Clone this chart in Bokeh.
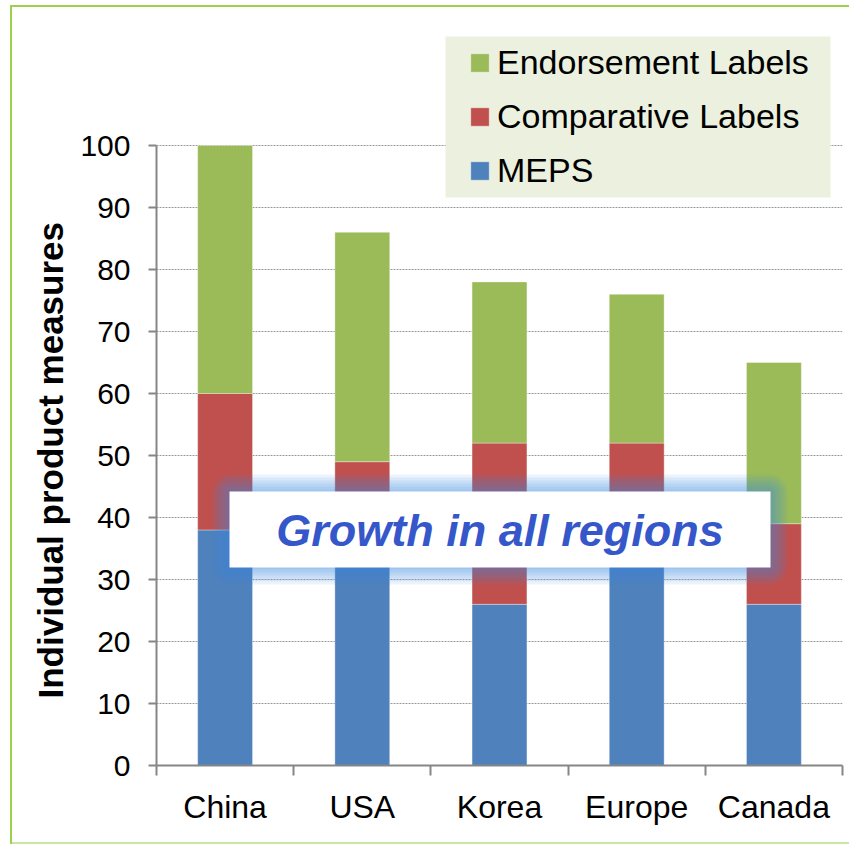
from bokeh.plotting import figure
from bokeh.models import (ColumnDataSource, LinearAxis, FixedTicker, Range1d, Legend,
                          LegendItem, BoxAnnotation, Label, Title)
from bokeh.embed import file_html
from bokeh.resources import INLINE

# ---- data ----
categories = ["China", "USA", "Korea", "Europe", "Canada"]
meps = [38, 41, 26, 42, 26]
comparative = [22, 8, 26, 10, 13]
endorsement = [40, 37, 26, 24, 26]
y_ticks = [0, 10, 20, 30, 40, 50, 60, 70, 80, 90, 100]
series = ["meps", "comparative", "endorsement"]
series_labels = ["MEPS", "Comparative Labels", "Endorsement Labels"]
colors = ["#4F81BD", "#C0504D", "#9BBB59"]

FONT = "Liberation Sans"
W, H = 849, 845
FL, FR, FT, FB = 156, 842, 20, 765  # frame edges (canvas px)
YMAX = 100 * (FB - FT) / (FB - 145)

xs = [i + 0.5 for i in range(len(categories))]
src = ColumnDataSource(dict(x=xs, meps=meps, comparative=comparative, endorsement=endorsement))

p = figure(width=W, height=H, output_backend="svg", toolbar_location=None,
           x_range=Range1d(0, len(categories)), y_range=Range1d(0, YMAX),
           x_axis_location=None, y_axis_location=None,
           min_border_left=FL, min_border_right=W - FR, min_border_top=FT,
           min_border_bottom=H - FB, outline_line_color=None,
           background_fill_color="white", border_fill_color=None)
g = "#9BD14B"
g2 = "#C8E8A0"
p.styles = {
    "background": (f"linear-gradient({g},{g}) 10px 5px / 2px 839px no-repeat, "
                   f"linear-gradient({g},{g}) 10px 5px / 840px 2px no-repeat, "
                   f"linear-gradient({g2},{g2}) 10px 842px / 840px 2px no-repeat, white")
}

rs = p.vbar_stack(series, x="x", width=0.4, color=colors, line_color="white",
                  line_alpha=0.35, line_width=1, source=src)

# ---- axes ----
xaxis = LinearAxis(ticker=FixedTicker(ticks=xs, minor_ticks=list(range(len(categories) + 1))),
                   bounds=(0, len(categories)))
xaxis.major_label_overrides = {x: c for x, c in zip(xs, categories)}
xaxis.major_tick_line_color = None
xaxis.major_tick_out = 0
xaxis.major_tick_in = 0
xaxis.minor_tick_out = 10
xaxis.minor_tick_in = 0
xaxis.minor_tick_line_color = "#868686"
xaxis.minor_tick_line_width = 2
xaxis.axis_line_color = "#868686"
xaxis.axis_line_width = 2
xaxis.major_label_standoff = 13
xaxis.major_label_text_font = FONT
xaxis.major_label_text_font_size = "32px"
xaxis.major_label_text_color = "black"
p.add_layout(xaxis, "below")

yaxis = LinearAxis(ticker=FixedTicker(ticks=y_ticks, minor_ticks=[]), bounds=(0, 100))
yaxis.major_tick_out = 8
yaxis.major_tick_in = 0
yaxis.major_tick_line_color = "#868686"
yaxis.major_tick_line_width = 2
yaxis.axis_line_color = "#868686"
yaxis.axis_line_width = 2
yaxis.major_label_standoff = 18
yaxis.major_label_text_font = FONT
yaxis.major_label_text_font_size = "30px"
yaxis.major_label_text_color = "black"
p.add_layout(yaxis, "left")

p.xgrid.visible = False
p.ygrid.ticker = FixedTicker(ticks=y_ticks[1:])
p.ygrid.grid_line_color = "#9A9A9A"
p.ygrid.grid_line_dash = "2 1"
p.ygrid.grid_line_width = 1

# y axis title as a side title, offset from the bottom of the frame
ytitle = Title(text="Individual product measures", align="left", offset=FB - 698,
               text_font=FONT, text_font_style="bold", text_font_size="35px",
               text_color="black", standoff=15)
p.add_layout(ytitle, "left")

# helpers: canvas px -> data (positioning only)
sx = (FR - FL) / len(categories)
sy = (FB - 145) / 100.0
def dx(px):
    return (px - FL) / sx
def dy(py):
    return (FB - py) / sy

# ---- legend ----
p.add_layout(BoxAnnotation(left=dx(445), right=dx(830), top=dy(36), bottom=dy(197),
                           fill_color="#EBF1DE", fill_alpha=1, line_color=None))
items = [LegendItem(label=lab, renderers=[r]) for lab, r in zip(series_labels, rs)][::-1]
legend = Legend(items=items, location=(312, 575), orientation="vertical",
                background_fill_alpha=0, border_line_color=None, padding=10, margin=0,
                spacing=15, label_height=34, glyph_height=23, glyph_width=23,
                label_standoff=6, label_text_font=FONT, label_text_font_size="34px",
                label_text_color="black")
p.add_layout(legend)

# ---- callout box with glow ----
bl, br, bt, bb = 229, 770, 491, 567
for k in [17, 14, 11, 8, 5, 2]:
    p.add_layout(BoxAnnotation(left=dx(bl - k), right=dx(br + k), top=dy(bt - k), bottom=dy(bb + k),
                               fill_color="#3C8AE6", fill_alpha=0.1, line_color=None,
                               border_radius=int(k + 2)))
p.add_layout(BoxAnnotation(left=dx(bl), right=dx(br), top=dy(bt), bottom=dy(bb),
                           fill_color="white", fill_alpha=1, line_color=None))
p.add_layout(Label(x=dx((bl + br) / 2), y=dy((bt + bb) / 2 + 1), text="Growth in all regions",
                   text_align="center", text_baseline="middle", text_font=FONT,
                   text_font_style="bold italic", text_font_size="45px", text_color="#3557C9"))

open("out.html", "w").write(file_html(p, INLINE))
